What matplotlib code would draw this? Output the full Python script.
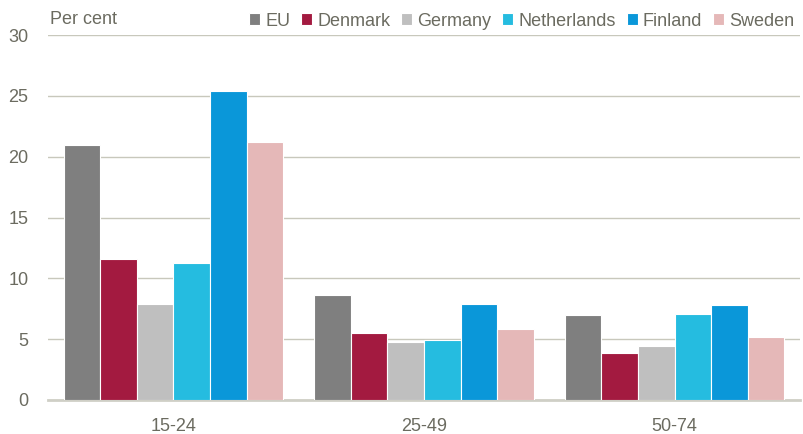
import numpy as np
import matplotlib.pyplot as plt
from matplotlib import font_manager

# Data
age_groups = ["15-24", "25-49", "50-74"]
countries = ["EU", "Denmark", "Germany", "Netherlands", "Finland", "Sweden"]
eu = [21.0, 8.6, 7.0]
denmark = [11.6, 5.5, 3.9]
germany = [7.9, 4.8, 4.4]
netherlands = [11.3, 4.9, 7.1]
finland = [25.4, 7.9, 7.8]
sweden = [21.2, 5.8, 5.2]
yticks = [0, 5, 10, 15, 20, 25, 30]

series = [eu, denmark, germany, netherlands, finland, sweden]
colors = ["#7f7f7f", "#a31a40", "#bfbfbf", "#25bce0", "#0a97d9", "#e5b8b8"]

# condensed font if available, otherwise Arial-like Liberation Sans
names = {f.name for f in font_manager.fontManager.ttflist}
family = "Liberation Sans Narrow" if "Liberation Sans Narrow" in names else "Liberation Sans"
plt.rcParams["font.family"] = [family, "DejaVu Sans"]
fs = 14 if family == "Liberation Sans Narrow" else 13
text_col = "#6b6b60"
grid_col = "#c8c8bc"

fig = plt.figure(figsize=(8.04, 4.34), dpi=100)
ax = fig.add_axes([48 / 804, 1 - 400 / 434, 752 / 804, 365 / 434])

x = np.arange(len(age_groups))
w = 0.146
for i, (vals, c, name) in enumerate(zip(series, colors, countries)):
    ax.bar(x + (i - 2.5) * w, vals, width=w, color=c, edgecolor="white",
           linewidth=0.8, label=name, zorder=3)

ax.set_xlim(-0.5, 2.5)
ax.set_ylim(0, 30)
ax.set_yticks(yticks)
ax.set_xticks(x)
ax.set_xticklabels(age_groups)
ax.yaxis.grid(True, color=grid_col, linewidth=1.0, zorder=0)
ax.set_axisbelow(True)
for s in ["top", "right", "left"]:
    ax.spines[s].set_visible(False)
ax.spines["bottom"].set_color("#cfcfc6")
ax.spines["bottom"].set_linewidth(2)
ax.tick_params(axis="both", length=0, labelsize=fs, colors=text_col)
ax.tick_params(axis="y", pad=14)
ax.tick_params(axis="x", pad=13)

fig.text(50 / 804, 1 - 19 / 434, "Per cent", fontsize=fs, color=text_col,
         va="center", ha="left")

leg = ax.legend(loc="lower right", bbox_to_anchor=(1.0, 1.0), ncol=6,
                frameon=False, fontsize=fs, handlelength=0.6, handleheight=0.6,
                handletextpad=0.3, columnspacing=0.6, borderaxespad=0.3,
                borderpad=0.0)
for t in leg.get_texts():
    t.set_color(text_col)

fig.savefig("out.png", dpi=100)
